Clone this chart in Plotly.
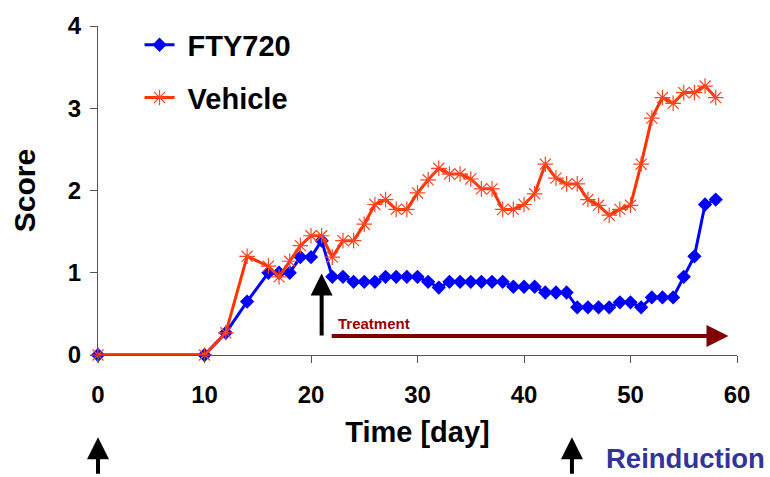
import plotly.graph_objects as go

days = [0, 10, 12, 14, 16, 17, 18, 19, 20, 21, 22, 23, 24, 25, 26, 27, 28, 29, 30,
        31, 32, 33, 34, 35, 36, 37, 38, 39, 40, 41, 42, 43, 44, 45, 46, 47, 48, 49,
        50, 51, 52, 53, 54, 55, 56, 57, 58]
fty720 = [0, 0, 0.27, 0.65, 1.0, 1.0, 1.0, 1.19, 1.19, 1.39, 0.95, 0.95, 0.89, 0.89,
          0.89, 0.95, 0.95, 0.95, 0.95, 0.89, 0.82, 0.89, 0.89, 0.89, 0.89, 0.89, 0.89,
          0.83, 0.83, 0.83, 0.76, 0.76, 0.76, 0.58, 0.58, 0.58, 0.58, 0.64, 0.64, 0.58,
          0.70, 0.70, 0.70, 0.95, 1.2, 1.83, 1.89]
vehicle = [0, 0, 0.27, 1.2, 1.08, 0.95, 1.14, 1.33, 1.45, 1.45, 1.19, 1.39, 1.39, 1.59,
           1.83, 1.89, 1.77, 1.77, 1.97, 2.13, 2.27, 2.2, 2.2, 2.14, 2.02, 2.02, 1.77,
           1.77, 1.83, 1.96, 2.32, 2.15, 2.08, 2.08, 1.89, 1.82, 1.70, 1.77, 1.82, 2.32,
           2.88, 3.13, 3.06, 3.19, 3.19, 3.27, 3.13]
x_ticks = [0, 10, 20, 30, 40, 50, 60]
y_ticks = [0, 1, 2, 3, 4]

treatment_start = 21
treatment_end = 59.2
induction_day = 0
reinduction_day = 44.5

FONT = "Liberation Sans, Arial, sans-serif"

fig = go.Figure()
fig.add_trace(go.Scatter(
    x=days, y=fty720, name="\u00a0FTY720", mode="lines+markers", legendgroup="a",
    line=dict(color="#0000FF", width=3),
    marker=dict(symbol="diamond", size=11, color="#0000FF"),
    cliponaxis=False,
))
fig.add_trace(go.Scatter(
    x=days, y=vehicle, name="\u00a0Vehicle", mode="lines+markers", legendgroup="b",
    line=dict(color="#FF3300", width=3),
    marker=dict(symbol="asterisk-open", size=13, color="#FF4422",
                line=dict(color="#FF4422", width=1.2)),
    cliponaxis=False,
))

axis_common = dict(
    showline=True, linecolor="#555555", linewidth=1,
    ticks="outside", ticklen=7, tickcolor="#555555", tickwidth=1,
    showgrid=False, zeroline=False,
    tickfont=dict(family=FONT, size=24, color="black", weight="bold"),
)

fig.update_xaxes(
    range=[0, 60], tickvals=x_ticks, ticktext=[str(v) for v in x_ticks],
    ticklabelstandoff=11,
    title=dict(text="Time [day]", font=dict(family=FONT, size=29, color="black", weight="bold"),
               standoff=14),
    **axis_common,
)
fig.update_yaxes(
    range=[0, 4], tickvals=y_ticks, ticktext=[str(v) for v in y_ticks],
    ticklabelstandoff=4,
    title=dict(text="Score", font=dict(family=FONT, size=30, color="black", weight="bold"),
               standoff=23),
    **axis_common,
)

annotations = [
    # vertical treatment-start arrow
    dict(x=treatment_start, y=0.99, xref="x", yref="y", ax=treatment_start, ay=0.22,
         axref="x", ayref="y", text="", showarrow=True, arrowhead=2, arrowsize=1.1,
         arrowwidth=4, arrowcolor="black"),
    # treatment horizontal arrow
    dict(x=treatment_end, y=0.23, xref="x", yref="y", ax=21.8, ay=0.23,
         axref="x", ayref="y", text="", showarrow=True, arrowhead=2, arrowsize=1.1,
         arrowwidth=4, arrowcolor="#800000"),
    dict(x=25.9, y=0.385, xref="x", yref="y", text="Treatment", showarrow=False,
         font=dict(family=FONT, size=15, color="#990000", weight="bold")),
    # induction / reinduction arrows below axis
    dict(x=induction_day, y=-0.25, xref="x", yref="paper", ax=0, ay=38,
         axref="pixel", ayref="pixel", text="", showarrow=True, arrowhead=2, arrowsize=1.1,
         arrowwidth=4, arrowcolor="black"),
    dict(x=reinduction_day, y=-0.25, xref="x", yref="paper", ax=0, ay=38,
         axref="pixel", ayref="pixel", text="", showarrow=True, arrowhead=2, arrowsize=1.1,
         arrowwidth=4, arrowcolor="black"),
    dict(x=55.2, y=-0.366, xref="x", yref="paper", text="Reinduction", showarrow=False,
         borderpad=0,
         font=dict(family=FONT, size=27.5, color="#333399", weight="bold")),
]

fig.update_layout(
    width=770, height=477,
    margin=dict(l=98, r=33, t=23, b=122),
    paper_bgcolor="white", plot_bgcolor="white",
    showlegend=True,
    legend=dict(x=0.065, y=1.02, xanchor="left", yanchor="top",
                bgcolor="rgba(0,0,0,0)", tracegroupgap=12, itemwidth=30,
                font=dict(family=FONT, size=29, color="black", weight="bold")),
    annotations=annotations,
)

fig.write_html("out.html")
